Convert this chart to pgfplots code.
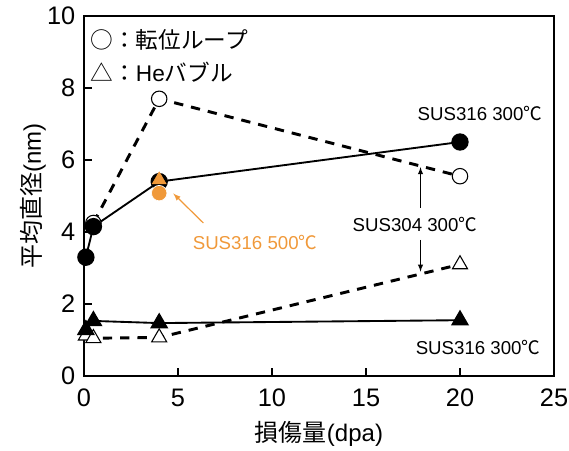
\documentclass[border=0pt]{standalone}
\usepackage{fontspec}
\setmainfont{Liberation Sans}
\newfontfamily\cjk{Noto Sans CJK JP}
\usepackage{pgfplots}
\pgfplotsset{compat=1.18}
\definecolor{orng}{RGB}{240,153,58}

\begin{document}
\begin{tikzpicture}
\begin{axis}[
    name=ax,
    scale only axis,
    width=352.5pt, height=270pt,
    xmin=0, xmax=25, ymin=0, ymax=10,
    xtick={0,5,...,25}, ytick={0,2,...,10},
    xtick pos=left, ytick pos=left,
    tick align=inside,
    major tick length=6pt,
    axis line style={line width=1.2pt},
    tick style={line width=0.8pt, black},
    /pgf/number format/assume math mode=true,
    ticklabel style={font=\fontsize{19}{21}\selectfont},
    xticklabel style={yshift=-6pt},
    yticklabel style={xshift=-3pt},
    xlabel={\cjk 損傷量\rmfamily(dpa)},
    ylabel={\cjk 平均直径\rmfamily(nm)},
    label style={font=\fontsize{18}{20}\selectfont},
    xlabel style={yshift=-4pt},
    ylabel style={yshift=-6pt},
    clip=false,
]
% SUS304 300C dislocation loops (open circles, dashed)
\addplot[black, line width=2.2pt, dash pattern=on 7pt off 6pt,
    mark=*, mark size=5.8pt, mark options={solid, fill=white, line width=0.8pt}]
    coordinates {(0.5,4.25) (4,7.7) (20,5.55)};
% SUS304 300C He bubbles (open triangles, dashed)
\addplot[black, line width=2.2pt, dash pattern=on 7pt off 6pt,
    mark=triangle*, mark size=6.5pt, mark options={solid, fill=white, line width=0.8pt}]
    coordinates {(0.1,1.12) (0.5,1.05) (4,1.07) (20,3.1)};
% SUS316 300C loops (filled circles)
\addplot[black, line width=1.4pt,
    mark=*, mark size=5.8pt, mark options={fill=black}]
    coordinates {(0.1,3.3) (0.5,4.15) (4,5.4) (20,6.5)};
% SUS316 300C bubbles (filled triangles)
\addplot[black, line width=1.4pt,
    mark=triangle*, mark size=6.5pt, mark options={fill=black}]
    coordinates {(0.1,1.28) (0.5,1.53) (4,1.47) (20,1.55)};
% SUS316 500C
\addplot[only marks, mark=triangle*, mark size=6pt, orng,
    mark options={fill=orng, draw=orng}]
    coordinates {(4,5.45)};
\addplot[only marks, mark=*, mark size=5.8pt, orng,
    mark options={fill=orng, draw=white, line width=0.5pt}]
    coordinates {(4,5.08)};

\node[anchor=west, font=\fontsize{17}{19}\selectfont] at (axis cs:0.1,9.33) {\cjk ○：転位ループ};
\node[anchor=west, font=\fontsize{17}{19}\selectfont] at (axis cs:0.1,8.44) {\cjk △：\rmfamily He\cjk バブル};

\node[font=\fontsize{14}{16}\selectfont] at (axis cs:21.06,7.3) {SUS316 300{\cjk ℃}};
\node[font=\fontsize{14}{16}\selectfont] at (axis cs:20.96,0.78) {SUS316 300{\cjk ℃}};
\node[font=\fontsize{14}{16}\selectfont] at (axis cs:17.6,4.2) {SUS304 300{\cjk ℃}};
\node[font=\fontsize{14}{16}\selectfont, text=orng] at (axis cs:9.1,3.72) {SUS316 500{\cjk ℃}};

\draw[-latex, line width=0.8pt] (axis cs:17.9,4.67) -- (axis cs:17.9,5.8);
\draw[-latex, line width=0.8pt] (axis cs:17.9,3.78) -- (axis cs:17.9,2.9);
\draw[-latex, line width=0.9pt, orng] (axis cs:6.35,4.25) -- (axis cs:4.75,5.07);
\end{axis}
\pgfresetboundingbox
\path ([shift={(-63pt,-55.5pt)}]ax.south west) rectangle ([shift={(11.25pt,12pt)}]ax.north east);
\end{tikzpicture}
\end{document}
